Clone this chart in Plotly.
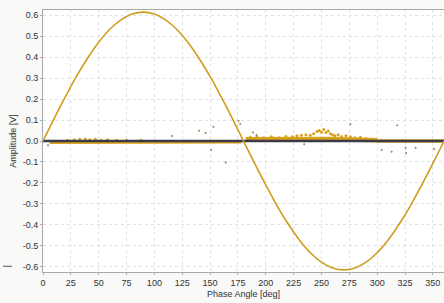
import plotly.graph_objects as go

# ---- data ----
phase_deg = [0, 10, 20, 30, 40, 50, 60, 70, 80, 90, 100, 110, 120, 130, 140, 150, 160, 170, 180,
             190, 200, 210, 220, 230, 240, 250, 260, 270, 280, 290, 300, 310, 320, 330, 340, 350, 360]
reference_v = [0.0, 0.107, 0.21, 0.308, 0.395, 0.471, 0.533, 0.578, 0.606, 0.615, 0.606, 0.578,
               0.533, 0.471, 0.395, 0.308, 0.21, 0.107, 0.0, -0.107, -0.21, -0.308, -0.395,
               -0.471, -0.533, -0.578, -0.606, -0.615, -0.606, -0.578, -0.533, -0.471, -0.395,
               -0.308, -0.21, -0.107, 0.0]

# zero baseline of the measured signal
baseline_deg = [0, 360]
baseline_v = [0.0, 0.0]

# dense noise bands around zero
band1_deg = [6, 60, 120, 178]
band1_v = [-0.006, -0.006, -0.005, -0.004]
band2_deg = [182, 220, 260, 300]
band2_v = [0.008, 0.01, 0.01, 0.004]
band3_deg = [300, 330, 360]
band3_v = [0.0, 0.0, 0.0]

# noise bumps / clusters
bump_deg = [22, 28, 33, 38, 42, 47, 52, 58, 66, 75, 88,
            186, 192, 198, 205, 212, 218, 224, 228, 232, 236, 240, 243, 246, 248, 250,
            252, 254, 256, 258, 260, 262, 265, 268, 272, 276, 280, 285, 290, 296]
bump_v = [0.004, 0.006, 0.008, 0.01, 0.006, 0.008, 0.004, 0.006, 0.004, 0.003, 0.003,
          0.018, 0.02, 0.015, 0.02, 0.015, 0.022, 0.02, 0.025, 0.028, 0.03, 0.028, 0.035,
          0.045, 0.05, 0.042, 0.055, 0.04, 0.048, 0.035, 0.03, 0.025, 0.03, 0.02, 0.025,
          0.02, 0.015, 0.018, 0.012, 0.01]

# isolated outliers
outlier_deg = [4.5, 116, 140, 146, 153, 151, 164, 175.5, 177, 188.6, 191.6, 234.5,
               276, 318, 304, 313, 325.6, 326, 334.5, 351]
outlier_v = [-0.02, 0.024, 0.049, 0.038, 0.068, -0.043, -0.103, 0.095, 0.081, 0.040, 0.029,
             -0.015, 0.08, 0.075, -0.043, -0.051, -0.032, -0.057, -0.032, -0.038]

x_ticks = [0, 25, 50, 75, 100, 125, 150, 175, 200, 225, 250, 275, 300, 325, 350]
y_ticks = [0.6, 0.5, 0.4, 0.3, 0.2, 0.1, 0.0, -0.1, -0.2, -0.3, -0.4, -0.5, -0.6]
y_tick_text = ["0.6", "0.5", "0.4", "0.3", "0.2", "0.1", "0.0", "-0.1", "-0.2", "-0.3",
               "-0.4", "-0.5", "-0.6"]

ORANGE = "#d9a21b"

fig = go.Figure()
for bx, by, w in [(band1_deg, band1_v, 3.5), (band2_deg, band2_v, 4.5), (band3_deg, band3_v, 3.5)]:
    fig.add_trace(go.Scatter(x=bx, y=by, mode="lines", line=dict(color=ORANGE, width=w),
                             hoverinfo="skip", showlegend=False))
fig.add_trace(go.Scatter(x=bump_deg, y=bump_v, mode="markers",
                         marker=dict(color=ORANGE, size=3), showlegend=False))
fig.add_trace(go.Scatter(x=outlier_deg, y=outlier_v, mode="markers",
                         marker=dict(color="#9a8050", size=2), showlegend=False))
fig.add_trace(go.Scatter(x=baseline_deg, y=baseline_v, mode="lines",
                         line=dict(color="#3a3a4a", width=2.4), showlegend=False))
fig.add_trace(go.Scatter(x=phase_deg, y=reference_v, mode="lines", line_shape="spline",
                         line=dict(color="#cf9d1e", width=1.6), showlegend=False))

axis_font = dict(family="Liberation Sans, Arial, sans-serif", size=9, color="#333333")
fig.update_layout(
    width=444, height=303,
    margin=dict(l=43, r=0, t=10, b=31),
    paper_bgcolor="#f9f9f8",
    plot_bgcolor="#ffffff",
    showlegend=False,
    xaxis=dict(range=[0, 360], tickvals=x_ticks, ticks="outside", ticklen=2,
               tickcolor="#b0b0b0", showline=True, linecolor="#a8a8a8", linewidth=1,
               mirror=True, showgrid=True, gridcolor="#e2e2e2", griddash="dot",
               zeroline=False, tickfont=axis_font, automargin=False,
               title=dict(text="Phase Angle [deg]", font=axis_font, standoff=3)),
    yaxis=dict(range=[-0.625, 0.625], tickvals=y_ticks, ticktext=y_tick_text,
               ticks="outside", ticklen=2, tickcolor="#b0b0b0", showline=True,
               linecolor="#a8a8a8", linewidth=1, mirror=True, showgrid=True,
               gridcolor="#e2e2e2", griddash="dot", zeroline=False, tickfont=axis_font,
               automargin=False,
               title=dict(text="Amplitude [V]", font=axis_font, standoff=4)),
)
fig.add_shape(type="rect", xref="paper", yref="paper", xsizemode="pixel", xanchor=0,
              ysizemode="pixel", yanchor=0.02, x0=-40, x1=-31, y0=0, y1=1,
              fillcolor="#555555", line=dict(width=0))

fig.write_html("out.html", config={"displayModeBar": False},
               post_script="document.body.style.margin='0';document.body.style.overflow='hidden';")
